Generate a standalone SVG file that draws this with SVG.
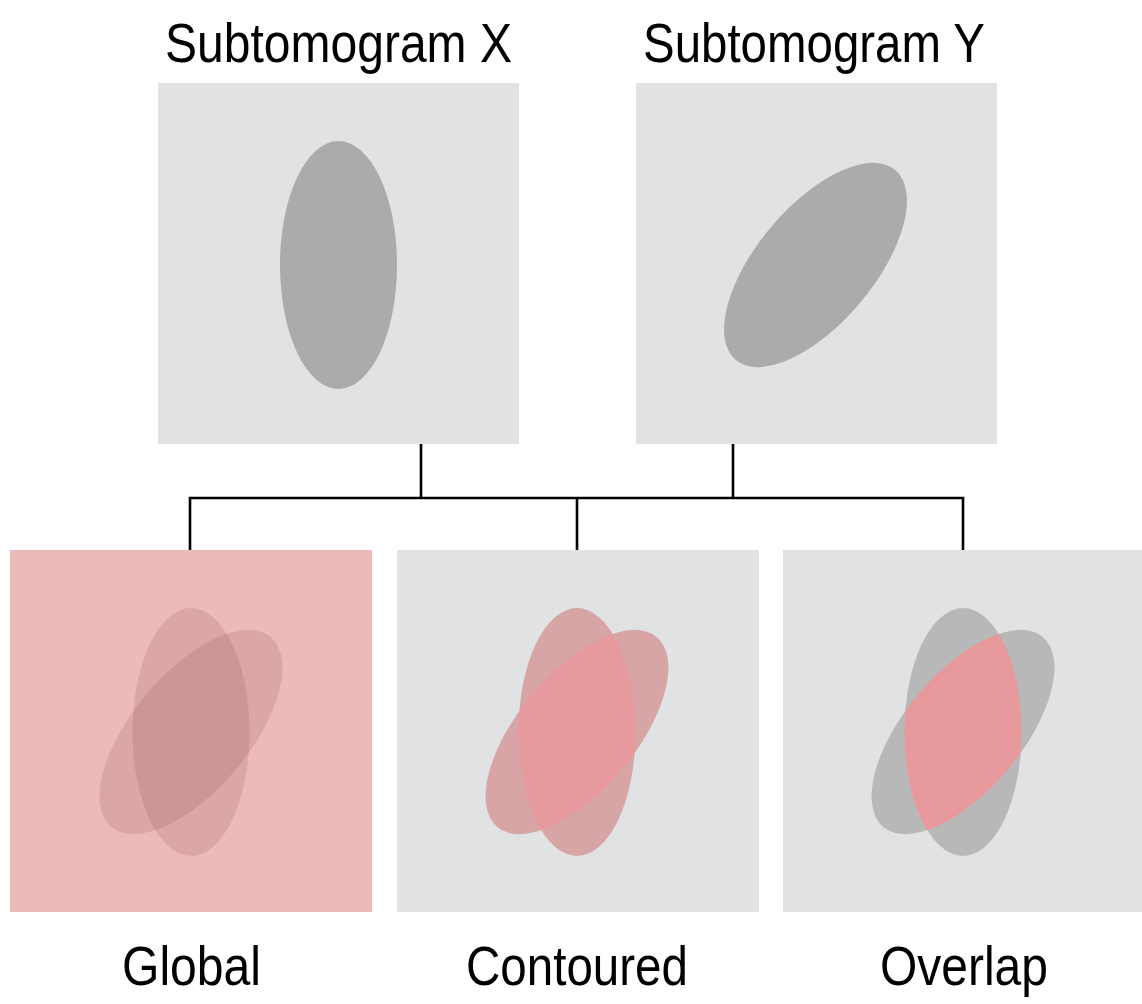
<svg xmlns="http://www.w3.org/2000/svg" width="1142" height="1004" viewBox="0 0 1142 1004">
  <style>
    .label { font-family: "Liberation Sans", Arial, Helvetica, sans-serif; font-size: 55px; fill: #000; }
    .panel-gray { fill: #E1E2E4; }
    .panel-pink { fill: #ECBAB8; }
    .blob { fill: #ABABAB; }
    .wire { fill: none; stroke: #000; stroke-width: 2.6; stroke-linejoin: miter; }
  </style>
  <defs>
    <!-- one density blob, vertical orientation, centred on the origin -->
    <ellipse id="blobV" cx="0" cy="0" rx="58.5" ry="124"/>
    <ellipse id="blobR" cx="0" cy="0" rx="58.5" ry="124" transform="rotate(40)"/>
    <clipPath id="clipV">
      <use href="#blobV"/>
    </clipPath>
  </defs>

  <rect width="1142" height="1004" fill="#FFFFFF"/>

  <!-- subtomogram X -->
  <g id="subtomogram-x">
    <text class="label" x="165" y="62" textLength="347" lengthAdjust="spacingAndGlyphs">Subtomogram X</text>
    <rect class="panel-gray" x="158" y="83" width="361" height="361"/>
    <ellipse class="blob" cx="338.5" cy="265" rx="58.5" ry="124"/>
  </g>

  <!-- subtomogram Y -->
  <g id="subtomogram-y">
    <text class="label" x="643" y="62" textLength="342" lengthAdjust="spacingAndGlyphs">Subtomogram Y</text>
    <rect class="panel-gray" x="636" y="83" width="361" height="361"/>
    <ellipse class="blob" cx="0" cy="0" rx="58.5" ry="124" transform="translate(815.5 265) rotate(40)"/>
  </g>

  <!-- connectors -->
  <g id="connectors">
    <path class="wire" d="M421 444 V498 M733 444 V498 M190 550 V498 H963 V550 M577 498 V550"/>
  </g>

  <!-- global mask: both blobs over a tinted field -->
  <g id="global">
    <rect class="panel-pink" x="10" y="550" width="362" height="362"/>
    <g transform="translate(191 732)" fill="#965A63" fill-opacity="0.2">
      <use href="#blobV"/>
      <use href="#blobR"/>
    </g>
    <text class="label" x="122" y="985" textLength="139" lengthAdjust="spacingAndGlyphs">Global</text>
  </g>

  <!-- contoured mask: union of blobs, intersection highlighted -->
  <g id="contoured">
    <rect class="panel-gray" x="397" y="550" width="362" height="362"/>
    <g transform="translate(577 732)">
      <g fill="#D8A5A6">
        <use href="#blobV"/>
        <use href="#blobR"/>
      </g>
      <use href="#blobR" fill="#E69A9D" clip-path="url(#clipV)"/>
    </g>
    <text class="label" x="466" y="985" textLength="222" lengthAdjust="spacingAndGlyphs">Contoured</text>
  </g>

  <!-- overlap mask: intersection only -->
  <g id="overlap">
    <rect class="panel-gray" x="783" y="550" width="362" height="362"/>
    <g transform="translate(963 732)">
      <g fill="#B8B8B9">
        <use href="#blobV"/>
        <use href="#blobR"/>
      </g>
      <use href="#blobR" fill="#E7999C" clip-path="url(#clipV)"/>
    </g>
    <text class="label" x="880" y="985" textLength="168" lengthAdjust="spacingAndGlyphs">Overlap</text>
  </g>
</svg>
